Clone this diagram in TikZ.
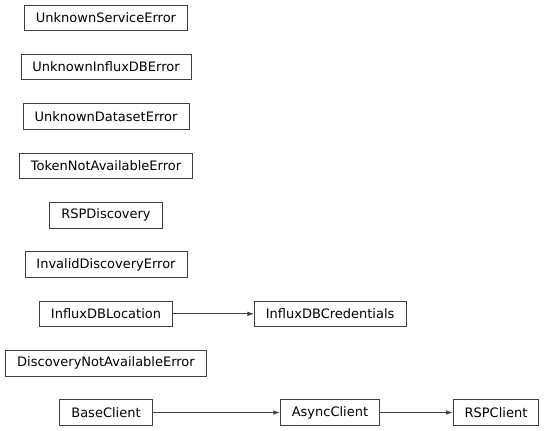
\documentclass[tikz,border=0pt]{standalone}
\usepackage{fontspec}
\setmainfont{DejaVu Sans}
\usetikzlibrary{positioning,arrows.meta}
\begin{document}
\begin{tikzpicture}[
  x=1pt, y=1pt,
  node distance=49.34pt,
  cls/.style={rectangle, draw=black!75, line width=0.8pt,
    inner xsep=11.5pt, minimum height=25.5pt,
    font=\fontsize{13}{15}\selectfont},
  inh/.style={-{Latex[length=6.5pt,width=4.5pt]}, draw=black!75, line width=0.8pt}]
  \useasboundingbox (0,0) rectangle (544,-431);

  \node[cls] (svc) at (106,-17.8) {UnknownServiceError};
  \node[cls, below of=svc] (influxerr) {UnknownInfluxDBError};
  \node[cls, below of=influxerr] (dataset) {UnknownDatasetError};
  \node[cls, below of=dataset] (token) {TokenNotAvailableError};
  \node[cls, below of=token] (disc) {RSPDiscovery};
  \node[cls, below of=disc] (invalid) {InvalidDiscoveryError};
  \node[cls, below of=invalid] (loc) {InfluxDBLocation};
  \node[cls, below of=loc] (notavail) {DiscoveryNotAvailableError};
  \node[cls, below of=notavail] (base) {BaseClient};

  \node[cls, right of=loc, xshift=174.8pt] (cred) {InfluxDBCredentials};
  \node[cls, right of=base, xshift=174.6pt] (async) {AsyncClient};
  \node[cls, right of=async, xshift=116.7pt] (rsp) {RSPClient};

  \draw[inh] (loc)--(cred);
  \draw[inh] (base)--(async);
  \draw[inh] (async)--(rsp);
\end{tikzpicture}
\end{document}
